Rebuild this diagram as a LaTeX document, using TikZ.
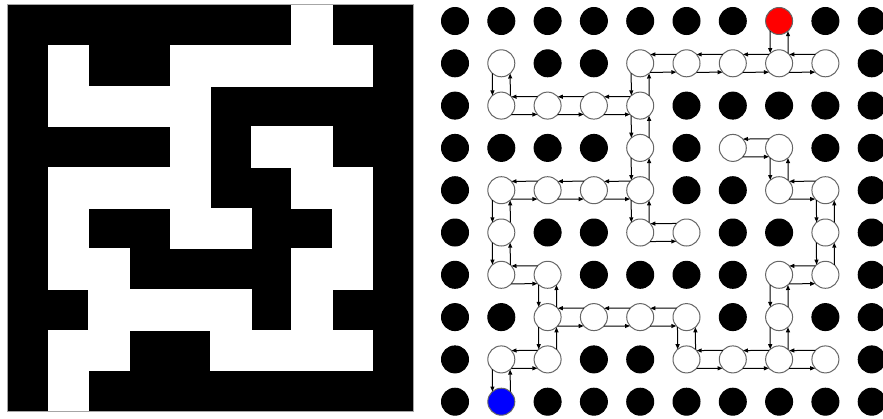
\documentclass[tikz,border=0pt]{standalone}
\usepackage{tikz}
\usetikzlibrary{arrows.meta}
\tikzset{
  gdot/.style={circle, line width=1pt, minimum size=27pt, inner sep=0pt, outer sep=0pt},
  dot0/.style={gdot, draw=black, fill=black},          % wall
  dot1/.style={gdot, draw=black!60, fill=white},       % open cell
  dot2/.style={gdot, draw=black!60, fill=red},         % entry
  dot3/.style={gdot, draw=black!60, fill=blue},        % exit
  mcell/.style={fill=white, draw=white, line width=0.4pt},
  link/.style={-{Triangle[length=5pt,width=4pt]}, line width=1pt, black},
}

\begin{document}
\begin{tikzpicture}[x=1pt, y=-1pt]
\useasboundingbox (0,0) rectangle (883,418);

% Left: the maze as a grid of cells
\fill[black] (7.5,4.5) rectangle (413,411);
\foreach \row [count=\r from 0] in {
  {0,0,0,0,0,0,0,2,0,0},
  {0,1,0,0,1,1,1,1,1,0},
  {0,1,1,1,1,0,0,0,0,0},
  {0,0,0,0,1,0,1,1,0,0},
  {0,1,1,1,1,0,0,1,1,0},
  {0,1,0,0,1,1,0,0,1,0},
  {0,1,1,0,0,0,0,1,1,0},
  {0,0,1,1,1,1,0,1,0,0},
  {0,1,1,0,0,1,1,1,1,0},
  {0,3,0,0,0,0,0,0,0,0}} {
  \foreach \v [count=\c from 0] in \row {
    \ifnum\v>0
      \path[mcell] ({7.5+40.55*\c},{4.5+40.65*\r}) rectangle ++(40.55,40.65);
    \fi
    % Right: one node per cell
    \node[dot\v] (n-\r-\c) at ({455+46.3*\c},{21+42.3*\r}) {};
  }
}
\draw[black!35, line width=0.6pt] (7.5,4.5) rectangle (413,411);

% horizontal neighbours: r/c joins c and c+1
\foreach \r/\c [evaluate=\c as \d using int(\c+1)] in
  {1/4,1/5,1/6,1/7, 2/1,2/2,2/3, 3/6, 4/1,4/2,4/3,4/7, 5/4, 6/1,6/7,
   7/2,7/3,7/4, 8/1,8/5,8/6,8/7} {
  \draw[link] (n-\r-\d.138.6) -- (n-\r-\c.41.4);
  \draw[link] (n-\r-\c.318.6) -- (n-\r-\d.221.4);
}

% vertical neighbours: r/c joins r and r+1
\foreach \r/\c [evaluate=\r as \s using int(\r+1)] in
  {0/7, 1/1,1/4, 2/4, 3/4,3/7, 4/1,4/4,4/8, 5/1,5/8, 6/2,6/7, 7/2,7/5,7/7, 8/1} {
  \draw[link] (n-\r-\c.228.6) -- (n-\s-\c.131.4);
  \draw[link] (n-\s-\c.48.6) -- (n-\r-\c.311.4);
}
\end{tikzpicture}
\end{document}
